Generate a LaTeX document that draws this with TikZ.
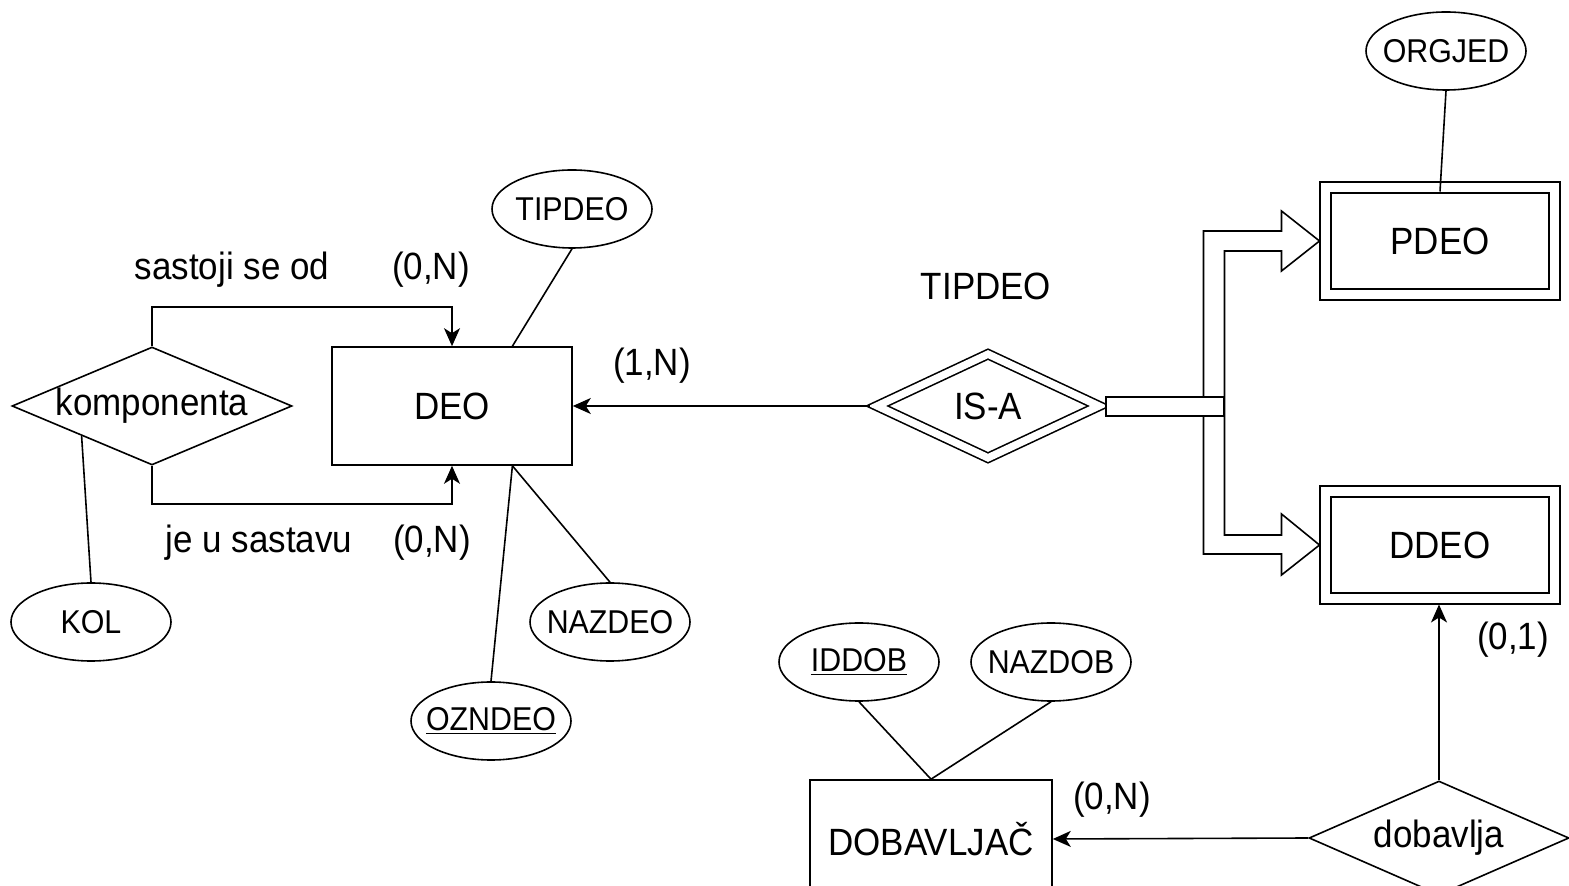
\documentclass[tikz,border=0pt]{standalone}
\usepackage{fontspec}
\setmainfont{Liberation Sans}[FakeStretch=0.92]
\usepackage{tikz}
\usetikzlibrary{
    shapes, shapes.geometric,
    arrows.meta, positioning, calc
}

\begin{document}
\begin{tikzpicture}[x=0.5pt, y=-0.5pt, line width=0.8pt,
    every node/.style={font=\fontsize{19}{22}\selectfont},
    entity/.style={draw, rectangle, minimum width=120pt, minimum height=59pt},
    weakent/.style={draw, rectangle, double, double distance=4.7pt,
        minimum width=114.5pt, minimum height=53.5pt, outer sep=3pt},
    rel/.style={draw, diamond, inner sep=0pt, inner xsep=-3pt},
    attr/.style={draw, ellipse, minimum width=80pt, minimum height=39pt,
        inner xsep=-12pt, inner ysep=0pt, font=\fontsize{16.5}{19}\selectfont},
    conn/.style={-{Stealth[length=9pt, width=8pt, inset=2.5pt]}}
]
    \useasboundingbox (0,0) rectangle (1569,886);
    \clip (0,0) rectangle (1569,886);

    % --- DEO i komponenta ---
    \node[entity] (deo) at (452,406) {DEO};
    \node[rel, minimum width=140pt, minimum height=59pt, aspect=2.37] (komp) at (152,406) {\raisebox{-2pt}{komponenta}};
    \node[attr] (kol) at (91,622) {KOL};
    \node[attr] (tipdeo) at (572,209) {TIPDEO};
    \node[attr] (nazdeo) at (610,622) {NAZDEO};
    \node[attr] (ozndeo) at (491,721) {\underline{OZNDEO}};

    \node (lSastoji) at (232,270) {sastoji se od};
    \node (lSastojiK) at (431,270) {(0,N)};
    \node (lSastav) at (259,543) {je u sastavu};
    \node (lSastavK) at (432,543) {(0,N)};

    \draw[conn] (komp.north) -- ++(0,-39) -| (deo.north);
    \draw[conn] (komp.south) -- ++(0,38) -| (deo.south);
    \draw (komp.south west) -- (kol.north);
    \coordinate (deoN) at ($(deo.north)!0.5!(deo.north east)$);
    \coordinate (deoS) at ($(deo.south)!0.5!(deo.south east)$);
    \draw (deoN) -- (tipdeo.south);
    \draw (deoS) -- (nazdeo.north);
    \draw (deoS) -- (ozndeo.north);

    % --- IS-A hijerarhija ---
    \node[rel, double, double distance=3.7pt, minimum width=113pt, minimum height=54pt,
        aspect=2.09, outer sep=2.6pt] (isa) at (988,406) {IS-A};
    \node (lIsa) at (986,286) {TIPDEO};
    \node (lIsaK) at (652,366) {(1,N)};
    \draw[conn] (isa.west) -- (deo.east);

    \node[weakent] (pdeo) at (1440,241) {PDEO};
    \node[weakent] (ddeo) at (1440,545) {DDEO};
    \node[attr] (orgjed) at (1446,51) {ORGJED};
    \draw (orgjed.south) -- ([yshift=-5pt]pdeo.north);

    % siroke strelice prema podtipovima
    \coordinate (fork) at ($(isa.east -| pdeo.west)+(-116,0)$);
    \draw[fill=white] ($(isa.east)+(0,-9)$) -- ($(fork)+(0,-9)$) -- ++(0,-166) -- ++(78,0) -- ++(0,-20)
        -- (pdeo.west) -- ++(-38,30) -- ++(0,-20) -- ++(-57,0) -- ++(0,284) -- ++(57,0)
        -- ++(0,-21) -- (ddeo.west) -- ++(-38,30) -- ++(0,-21) -- ++(-78,0)
        -- ($(fork)+(0,10)$) -- ($(isa.east)+(0,10)$) -- cycle;
    \draw[fill=white] ($(isa.east)+(0,-9)$) rectangle ($(fork)+(20,10)$);

    % --- DOBAVLJAC ---
    \node[rel, minimum width=130pt, minimum height=57pt, aspect=2.28] (dobavlja) at (1439,838) {dobavlja};
    \node[entity, minimum width=121pt] (dobavljac) at (931,839) {DOBAVLJAČ};
    \node[attr] (iddob) at (859,662) {\underline{IDDOB}};
    \node[attr] (nazdob) at (1051,662) {NAZDOB};
    \node (lDobK) at (1112,800) {(0,N)};
    \node (lDdeoK) at (1513,640) {(0,1)};

    \draw[conn] (dobavlja.north) -- (dobavlja.north |- ddeo.south);
    \draw[conn] (dobavlja.west) -- (dobavljac.east);
    \draw (iddob.south) -- (dobavljac.north);
    \draw (nazdob.south) -- (dobavljac.north);

\end{tikzpicture}
\end{document}
